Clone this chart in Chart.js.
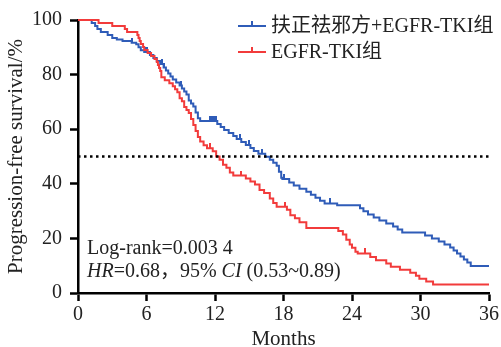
<!DOCTYPE html>
<html><head><meta charset="utf-8">
<script src="https://cdn.jsdelivr.net/npm/chart.js@4"></script>
<style>html,body{margin:0;padding:0;background:#fff}#wrap{width:501px;height:347px}</style>
</head><body><div id="wrap"><canvas id="c" width="501" height="347"></canvas></div>
<script>
// ---- data ----
const xTicks = [0, 6, 12, 18, 24, 30, 36];
const yTicks = [0, 20, 40, 60, 80, 100];
const seriesNames = ['扶正祛邪方+EGFR-TKI组', 'EGFR-TKI组'];
const xTitle = 'Months';
const yTitle = 'Progression-free survival/%';
const annotLine1 = 'Log-rank=0.003 4';
const annotLine2 = [['HR', true], ['=0.68，95% ', false], ['CI', true], [' (0.53~0.89)', false]];
const medianLevel = 50;

const blueMonths = [0,1.2,1.5,1.7,2.0,2.6,3.0,3.4,3.9,4.7,5.1,5.3,5.5,5.8,6.3,6.6,6.9,7.2,7.5,7.7,7.9,8.1,8.3,8.6,8.9,9.1,9.3,9.5,9.7,9.9,10.1,10.3,10.5,10.7,12.2,12.5,12.8,13.2,13.6,13.9,14.3,14.7,15.1,15.4,15.8,16.4,16.8,17.1,17.4,17.6,17.8,17.9,18.5,18.9,19.4,20.0,20.4,20.8,21.2,21.6,22.7,24.7,25.0,25.4,25.9,26.4,27.0,27.6,28.0,28.4,30.4,31.0,31.6,32.1,32.6,32.9,33.2,33.5,33.8,34.1,34.4,36];
const bluePct    = [100,98.9,97.8,96.7,95.6,94.5,93.4,92.9,92.3,91.7,91.1,90.0,88.9,88.3,87.2,86.1,85.0,83.9,82.6,81.5,80.4,79.3,78.2,77.1,76.0,74.9,73.8,72.7,70.5,69.4,68.3,66.1,64.0,63.0,61.9,60.8,59.7,58.6,57.5,56.4,55.3,54.2,53.1,52.0,51.0,49.9,48.8,47.7,46.6,44.4,42.2,41.8,40.5,39.4,38.2,37.1,36.0,34.9,33.8,32.8,32.1,31.0,29.9,28.8,27.7,26.6,25.5,24.4,23.3,22.2,21.1,20.0,18.9,17.8,16.7,15.6,14.5,13.4,12.3,11.2,9.9,9.9];
const blueCensor = [4.7, 5.95, 6.05, 7.35, 7.5, 9.05, 11.6, 11.75, 11.9, 12.05, 14.2, 15.0, 16.1, 18.0, 22.1];

const redMonths = [0,1.8,3.0,4.1,4.3,5.2,5.3,5.4,5.5,5.7,5.8,6.1,6.4,6.7,6.9,7.0,7.1,7.2,7.3,7.6,8.0,8.3,8.5,8.7,8.9,9.1,9.3,9.5,9.7,9.9,10.1,10.3,10.5,10.7,11.0,11.3,11.8,12.1,12.4,12.7,13.0,13.3,13.6,14.7,15.1,15.5,15.9,16.3,16.8,17.1,17.4,18.3,18.6,19.0,19.4,20.0,22.8,23.2,23.5,23.8,24.0,24.3,24.5,25.6,26.1,27.0,27.4,28.2,29.1,29.6,29.9,30.5,31.1,36];
const redPct    = [100,98.9,97.8,96.7,95.6,94.5,93.4,92.3,91.2,90.1,89.0,87.9,86.8,85.7,84.6,83.5,82.4,81.3,79.0,77.9,76.8,75.7,74.6,73.5,71.3,70.2,68.1,67.0,65.9,63.7,61.5,59.3,57.1,55.5,54.1,53.0,51.9,50.0,48.8,47.0,45.9,44.1,43.0,41.9,40.8,39.7,37.7,36.6,34.6,33.0,31.6,30.5,28.5,27.4,25.9,23.8,22.7,21.4,19.5,17.8,16.6,15.1,14.5,13.2,12.0,10.8,9.6,8.5,7.4,6.3,5.2,4.2,3.1,3.1];
const redCensor = [11.6, 14.3, 18.1, 25.1];

// ---- styles ----
const BLUE = '#2f5cb8';
const RED = '#f23b3b';
const FONT = '"Liberation Serif", "Times New Roman", "Noto Sans CJK SC", serif';

function toXY(ms, ps) { return ms.map((m, i) => ({x: m, y: ps[i]})); }
function survAt(ms, ps, t) {
  let v = ps[0];
  for (let i = 0; i < ms.length; i++) { if (ms[i] <= t) v = ps[i]; else break; }
  return v;
}
function tickImg(color) {
  const c = document.createElement('canvas');
  c.width = 2; c.height = 10;
  const g = c.getContext('2d');
  g.fillStyle = color; g.fillRect(0, 0, 2, 5);
  return c;
}

const legendPlugin = {
  id: 'kmExtras',
  afterDraw(chart) {
    const ctx = chart.ctx;
    ctx.save();
    const rows = [[seriesNames[0], BLUE, 26], [seriesNames[1], RED, 52]];
    rows.forEach(([label, col, y]) => {
      ctx.strokeStyle = col; ctx.lineWidth = 2;
      ctx.beginPath(); ctx.moveTo(238, y); ctx.lineTo(266, y); ctx.stroke();
      ctx.beginPath(); ctx.moveTo(252, y); ctx.lineTo(252, y - 5); ctx.stroke();
      ctx.fillStyle = '#222';
      ctx.font = '20px ' + FONT;
      ctx.textBaseline = 'middle'; ctx.textAlign = 'left';
      ctx.fillText(label, 271, y + 1);
    });
    ctx.fillStyle = '#222';
    ctx.textBaseline = 'middle'; ctx.textAlign = 'left';
    ctx.font = '20px ' + FONT;
    ctx.fillText(annotLine1, 87, 249);
    let x = 87;
    annotLine2.forEach(([t, it]) => {
      ctx.font = (it ? 'italic ' : '') + '20px ' + FONT;
      ctx.fillText(t, x, 272);
      x += ctx.measureText(t).width;
    });
    ctx.restore();
  }
};

new Chart(document.getElementById('c'), {
  type: 'line',
  data: {
    datasets: [
      {data: [{x: xTicks[0], y: medianLevel}, {x: xTicks[xTicks.length - 1], y: medianLevel}],
       borderColor: '#000', borderWidth: 2.5, borderDash: [2.5, 3.5], pointRadius: 0, clip: false},
      {data: toXY(redMonths, redPct), borderColor: RED, borderWidth: 2, stepped: true, pointRadius: 0, clip: 4},
      {data: toXY(blueMonths, bluePct), borderColor: BLUE, borderWidth: 2, stepped: true, pointRadius: 0, clip: 4},
      {data: redCensor.map(t => ({x: t, y: survAt(redMonths, redPct, t)})), showLine: false,
       pointStyle: tickImg(RED), pointRadius: 5, clip: false},
      {data: blueCensor.map(t => ({x: t, y: survAt(blueMonths, bluePct, t)})), showLine: false,
       pointStyle: tickImg(BLUE), pointRadius: 5, clip: false}
    ]
  },
  options: {
    responsive: false, animation: false, devicePixelRatio: 1,
    layout: {padding: {top: 16, right: 12, left: 0, bottom: 0}},
    plugins: {legend: {display: false}, tooltip: {enabled: false}},
    scales: {
      x: {
        type: 'linear', min: 0, max: 36,
        afterFit(s) { s.height = 54; },
        afterBuildTicks(s) { s.ticks = xTicks.map(v => ({value: v})); },
        border: {display: true, color: '#000', width: 2.5},
        grid: {display: true, drawOnChartArea: false, drawTicks: true, tickLength: 8, tickWidth: 2.5, tickColor: '#000'},
        ticks: {color: '#222', font: {family: FONT, size: 20}, padding: 2, maxRotation: 0},
        title: {display: true, text: xTitle, color: '#222', font: {family: FONT, size: 21, lineHeight: 1}, padding: {top: 0, bottom: -3}}
      },
      y: {
        type: 'linear', min: 0, max: 100,
        afterFit(s) { s.width = 78; },
        afterBuildTicks(s) { s.ticks = yTicks.map(v => ({value: v})); },
        border: {display: true, color: '#000', width: 2.5},
        grid: {display: true, drawOnChartArea: false, drawTicks: true, tickLength: 8, tickWidth: 2.5, tickColor: '#000'},
        ticks: {color: '#222', font: {family: FONT, size: 20}, padding: 8},
        title: {display: true, text: yTitle, color: '#222', font: {family: FONT, size: 21, lineHeight: 1}, padding: {top: 6, bottom: 6}}
      }
    }
  },
  plugins: [legendPlugin]
});
</script></body></html>
